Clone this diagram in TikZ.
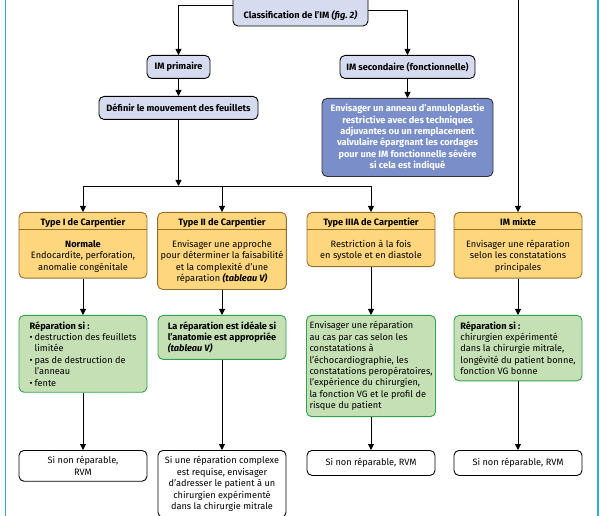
\documentclass[tikz,border=0pt]{standalone}
\usepackage{fontspec}
\setmainfont{Fira Sans}
\usepackage{xcolor}
\usetikzlibrary{arrows.meta,positioning}
\definecolor{lav}{RGB}{215,219,240}
\definecolor{bleu}{RGB}{122,143,201}
\definecolor{jaune}{RGB}{253,214,126}
\definecolor{jauneb}{RGB}{150,110,45}
\definecolor{vert}{RGB}{197,224,180}
\definecolor{vertb}{RGB}{55,160,80}
\definecolor{cadre}{RGB}{41,171,226}

\begin{document}
\begin{tikzpicture}[x=1pt,y=-1pt,>={Triangle[width=6pt,length=6pt]},
  every node/.style={font=\fontsize{9.2}{11.4}\selectfont},
  base/.style={draw,rounded corners=5pt,line width=.9pt,anchor=north,inner ysep=6pt,inner xsep=3pt},
  lavbox/.style={base,fill=lav,font=\fontsize{9.2}{11.4}\selectfont\bfseries,inner ysep=4pt,minimum height=23pt},
  bluebox/.style={base,fill=bleu,draw=black!80,text=white,font=\fontsize{9.2}{11.3}\selectfont\bfseries,align=center},
  typebox/.style={base,fill=jaune,draw=jauneb,minimum width=128pt,align=center,
    path picture={\draw[jauneb,line width=.9pt] ([yshift=-17pt]path picture bounding box.north west) -- ([yshift=-17pt]path picture bounding box.north east);}},
  grbox/.style={base,fill=vert,draw=vertb,minimum width=128pt,align=left},
  wbox/.style={base,fill=white,minimum width=128pt,align=center},
  fleche/.style={->,line width=.9pt}]
\useasboundingbox (0,0) rectangle (606,516);
\clip (0,0) rectangle (606,516);

\draw[cadre,line width=1.3pt] (5.5,0) -- (5.5,516);
\draw[cadre,line width=1.3pt] (598,0) -- (598,516);

\node[lavbox,anchor=base,text height=30pt,text depth=3pt,minimum width=135pt] (top) at (300.5,19) {Classification de l'IM \textit{(fig.~2)}};
\node[lavbox,minimum width=63pt] (prim) at (178.5,55) {IM primaire};
\node[lavbox,minimum width=135pt] (sec) at (407.5,55) {IM secondaire (fonctionnelle)};
\node[lavbox,minimum width=159pt] (def) at (178.5,96) {Définir le mouvement des feuillets};
\node[bluebox,minimum width=171pt] (conseil) at (407.5,98) {Envisager un anneau d'annuloplastie\\restrictive avec des techniques\\adjuvantes ou un remplacement\\valvulaire épargnant les cordages\\pour une IM fonctionnelle sévère\\si cela est indiqué};
\coordinate (fork) at (178.5,186);
\coordinate (mixtop) at (518,-5);

\node[typebox] (t1) at (83,212) {\textbf{Type I de Carpentier}\\[10pt]\textbf{Normale}\\Endocardite, perforation,\\anomalie congénitale};
\node[typebox] (t2) at (222,212) {\textbf{Type II de Carpentier}\\[10pt]Envisager une approche\\pour déterminer la faisabilité\\et la complexité d'une\\réparation \textbf{\textit{(tableau V)}}};
\node[typebox] (t3) at (371,212) {\textbf{Type IIIA de Carpentier}\\[10pt]Restriction à la fois\\en systole et en diastole};
\node[typebox] (tmix) at (518,212) {\textbf{IM mixte}\\[10pt]Envisager une réparation\\selon les constatations\\principales};

\node[grbox] (g1) at (83,315) {\textbf{Réparation si :}\\\makebox[5pt][l]{\textbullet}destruction des feuillets\\\hspace*{5pt}limitée\\\makebox[5pt][l]{\textbullet}pas de destruction de\\\hspace*{5pt}l'anneau\\\makebox[5pt][l]{\textbullet}fente};
\node[grbox] (g2) at (222,315) {\textbf{La réparation est idéale si}\\\textbf{l'anatomie est appropriée}\\\textbf{\textit{(tableau V)}}};
\node[grbox] (g3) at (371,315) {Envisager une réparation\\au cas par cas selon les\\constatations à\\l'échocardiographie, les\\constatations peropératoires,\\l'expérience du chirurgien,\\la fonction VG et le profil de\\risque du patient};
\node[grbox] (g4) at (518,315) {\textbf{Réparation si :}\\chirurgien expérimenté\\dans la chirurgie mitrale,\\longévité du patient bonne,\\fonction VG bonne};

\node[wbox] (w1) at (83,450) {Si non réparable,\\RVM};
\node[wbox] (w2) at (222,450) {Si une réparation complexe\\est requise, envisager\\d'adresser le patient à un\\chirurgien expérimenté\\dans la chirurgie mitrale};
\node[wbox,minimum height=25pt] (w3) at (371,450) {Si non réparable, RVM};
\node[wbox,minimum height=25pt] (w4) at (518,450) {Si non réparable, RVM};

\draw[fleche] (top.west) -| (prim);
\draw[fleche] ([yshift=-5pt]top.east) -| (sec);
\draw[fleche] (prim) -- (def);
\draw[fleche] (sec) -- (conseil);
\draw[fleche] (def) -- (fork);
\draw[line width=.9pt] (t1 |- fork) -- (t3 |- fork);
\draw[fleche] (t1 |- fork) -- (t1);
\draw[fleche] (t2 |- fork) -- (t2);
\draw[fleche] (t3 |- fork) -- (t3);
\draw[fleche] (mixtop) -- (tmix);
\draw[fleche] (t1) -- (g1);
\draw[fleche] (t2) -- (g2);
\draw[fleche] (t3) -- (g3);
\draw[fleche] (tmix) -- (g4);
\draw[fleche] (g1) -- (w1);
\draw[fleche] (g2) -- (w2);
\draw[fleche] (g3) -- (w3);
\draw[fleche] (g4) -- (w4);
\end{tikzpicture}
\end{document}
